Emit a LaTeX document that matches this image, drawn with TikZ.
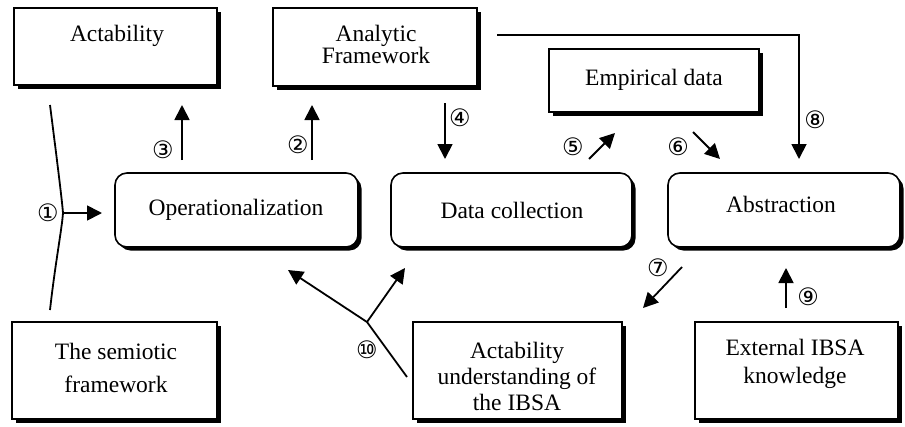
\documentclass[tikz,border=0pt]{standalone}
\usepackage{fontspec}
\setmainfont{Liberation Serif}
\newfontfamily\circfont{DejaVu Sans}
\usetikzlibrary{arrows.meta,shadows}
\begin{document}
\begin{tikzpicture}[x=1pt,y=-1pt,
  box/.style={draw, line width=1.6pt, fill=white, rectangle, inner sep=0pt, outer sep=0pt, anchor=north west,
    drop shadow={shadow xshift=3.5pt, shadow yshift=-3.5pt, fill=black, opacity=1}},
  rbox/.style={box, rounded corners=12pt},
  lbl/.style={font=\fontsize{23.5}{25}\selectfont, align=center, inner sep=0pt},
  num/.style={font=\circfont\fontsize{24}{24}\selectfont, inner sep=0pt},
  arr/.style={line width=1.8pt, -{Triangle[length=15pt,width=15pt]}},
  ln/.style={line width=1.8pt}]
\useasboundingbox (0,0) rectangle (905,426);

% boxes
\node[box, minimum width=203pt, minimum height=77pt] (act) at (14,8) {};
\node[box, minimum width=204pt, minimum height=78pt] (ana) at (273,8) {};
\node[box, minimum width=210pt, minimum height=63pt] (emp) at (549,49) {};
\node[rbox, minimum width=243pt, minimum height=74pt] (op) at (115,173) {};
\node[rbox, minimum width=241pt, minimum height=74pt] (dc) at (391,173) {};
\node[rbox, minimum width=232pt, minimum height=74pt] (abs) at (668,173) {};
\node[box, minimum width=205pt, minimum height=97pt] (sem) at (12,322) {};
\node[box, minimum width=209pt, minimum height=97pt] (au) at (413,322) {};
\node[box, minimum width=203pt, minimum height=97pt] (ext) at (695,322) {};

% texts
\node[lbl] (tact) at (117,36) {Actability};
\node[lbl, font=\fontsize{23.5}{22}\selectfont] (tana) at (376,44) {Analytic\\Framework};
\node[lbl] (temp) at (654,80) {Empirical data};
\node[lbl] (top) at (236,210) {Operationalization};
\node[lbl] (tdc) at (512,210) {Data collection};
\node[lbl] (tabs) at (781,204) {Abstraction};
\node[lbl, font=\fontsize{23.5}{33}\selectfont] (tsem) at (116,368) {The semiotic\\framework};
\node[lbl, font=\fontsize{23.5}{26}\selectfont] (tau) at (517,376) {Actability\\understanding of\\the IBSA};
\node[lbl, font=\fontsize{23.5}{28}\selectfont] (text) at (795,364) {External IBSA\\knowledge};

% number labels
\node[num] (n1) at (48,213) {①};
\node[num] (n2) at (298,145) {②};
\node[num] (n3) at (163,150) {③};
\node[num] (n4) at (460,118) {④};
\node[num] (n5) at (573,147) {⑤};
\node[num] (n6) at (678,147) {⑥};
\node[num] (n7) at (658,268) {⑦};
\node[num] (n8) at (815,120) {⑧};
\node[num] (n9) at (808,297) {⑨};
\node[num] (n10) at (367,350) {⑩};

% helper coordinates
\coordinate (x2) at (312,0);
\coordinate (x3) at (182,0);
\coordinate (x4) at (445,0);
\coordinate (x8) at (799,0);
\coordinate (x9) at (786,0);
\coordinate (cusp) at (63,213);
\coordinate (b1) at (50,105);
\coordinate (b2) at (50,310);
\coordinate (a5s) at (589,159);
\coordinate (a5e) at (615,133);
\coordinate (a6s) at (693,132);
\coordinate (a6e) at (720,159);
\coordinate (a7s) at (682,267);
\coordinate (a7e) at (643,308);
\coordinate (s10) at (407,377);
\coordinate (j10) at (367,322);
\coordinate (e10a) at (288,270);
\coordinate (e10b) at (405,268);

% connectors
\draw[ln] (b1) .. controls (57,160) and (62,200) .. (cusp) .. controls (62,228) and (55,265) .. (b2);
\draw[arr, shorten >=13pt] (cusp) -- (cusp -| op.west);
\draw[arr, shorten <=13pt, shorten >=20pt] (x3 |- op.north) -- (x3 |- act.south);
\draw[arr, shorten <=13pt, shorten >=19pt] (x2 |- op.north) -- (x2 |- ana.south);
\draw[arr, shorten <=17pt, shorten >=14pt] (x4 |- ana.south) -- (x4 |- dc.north);
\draw[arr, shorten >=14pt] ([xshift=20pt,yshift=-27pt]ana.north east) -| (x8 |- abs.north);
\draw[arr, shorten <=14pt, shorten >=21pt] (x9 |- ext.north) -- (x9 |- abs.south);
\draw[arr] (a5s) -- (a5e);
\draw[arr] (a6s) -- (a6e);
\draw[arr] (a7s) -- (a7e);
\draw[ln] (s10) -- (j10);
\draw[arr] (j10) -- (e10a);
\draw[arr] (j10) -- (e10b);
\end{tikzpicture}
\end{document}
